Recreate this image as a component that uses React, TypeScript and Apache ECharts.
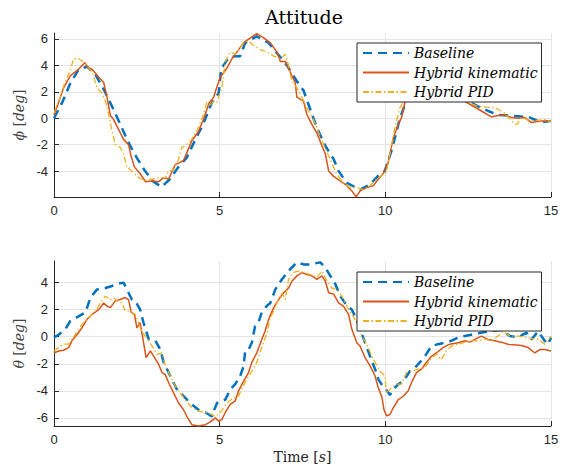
import React, { useEffect, useRef } from "react";
import * as echarts from "echarts";

const SERIES_NAMES = ["Baseline", "Hybrid kinematic", "Hybrid PID"];
const TIME_TICKS = [0, 5, 10, 15];
const PHI_TICKS = [-4, -2, 0, 2, 4, 6];
const THETA_TICKS = [-6, -4, -2, 0, 2, 4];

const PHI_BASELINE: [number, number][] = [
  [0, 0], [0.25, 1.2], [0.5, 2.7], [0.75, 3.7], [1.0, 3.9], [1.25, 3.3], [1.5, 2.2], [1.75, 0.9], [2.0, -0.45],
  [2.25, -1.85], [2.5, -3.0], [2.75, -4.0], [3.0, -4.8], [3.25, -5.2], [3.5, -4.6], [3.75, -3.7], [4.0, -3.0],
  [4.25, -1.7], [4.5, -0.45], [4.75, 1.1], [4.85, 1.5], [4.97, 1.9], [5.05, 3.8], [5.12, 4.0], [5.27, 4.6],
  [5.5, 4.7], [5.62, 4.7], [5.77, 5.7], [6.12, 6.2], [6.48, 5.7], [7.03, 4.0], [7.33, 2.8], [7.53, 2.1],
  [7.73, 0.7], [7.93, -0.7], [8.19, -2.1], [8.44, -3.1], [8.59, -4.0], [8.84, -4.9], [9.24, -5.4], [9.54, -5.0],
  [9.84, -4.2], [9.98, -4.0], [10.18, -2.5], [10.34, -1.0], [10.44, 0], [10.59, 1.0], [10.75, 1.8], [11.0, 2.3],
  [11.5, 2.4], [12.0, 1.9], [12.5, 1.3], [12.8, 0.9], [13.1, 0.55], [13.4, 0.25], [13.81, 0.2], [14.36, 0.05],
  [14.71, -0.3], [15, -0.2],
];

const PHI_KINEMATIC: [number, number][] = [
  [0, 0.25], [0.14, 1.2], [0.29, 2.3], [0.49, 3.2], [0.74, 3.7], [0.93, 4.2], [1.0, 3.9], [1.15, 3.7], [1.35, 3.1],
  [1.5, 2.7], [1.6, 1.6], [1.7, 0.2], [1.8, -0.1], [1.9, -0.6], [2.1, -1.6], [2.25, -2.0], [2.33, -2.9],
  [2.43, -3.7], [2.6, -4.2], [2.76, -4.8], [2.96, -4.75], [3.16, -4.8], [3.31, -4.5], [3.46, -4.6], [3.66, -3.5],
  [3.76, -3.4], [3.91, -3.2], [4.01, -2.6], [4.16, -1.7], [4.36, -1.0], [4.51, -0.1], [4.67, 1.1], [4.82, 1.6],
  [4.92, 2.4], [5.02, 3.1], [5.22, 3.8], [5.37, 4.5], [5.52, 5.0], [5.72, 5.7], [5.82, 5.9], [6.12, 6.4],
  [6.32, 6.1], [6.53, 5.7], [6.73, 5.0], [6.83, 4.3], [6.98, 4.3], [7.13, 3.5], [7.28, 2.7], [7.33, 1.6],
  [7.53, 1.3], [7.63, 0.3], [7.78, -0.45], [7.93, -1.1], [8.09, -2.1], [8.19, -2.7], [8.29, -4.0], [8.44, -4.4],
  [8.64, -4.75], [8.84, -5.1], [8.99, -5.5], [9.12, -5.95], [9.24, -5.5], [9.44, -5.25], [9.64, -5.1],
  [9.79, -4.6], [9.93, -4.2], [10.08, -3.4], [10.24, -1.5], [10.39, -0.45], [10.49, 0.05], [10.59, 1.2],
  [10.75, 1.8], [11.0, 2.2], [11.5, 2.3], [12.0, 1.8], [12.45, 1.2], [12.8, 0.7], [13.2, 0.1], [13.4, 0.2],
  [13.6, 0.25], [13.81, 0.05], [14.01, 0], [14.21, 0.05], [14.41, -0.33], [14.71, -0.2], [15, -0.25],
];

const PHI_PID: [number, number][] = [
  [0, 0.4], [0.19, 1.6], [0.34, 2.8], [0.49, 3.6], [0.59, 4.5], [0.74, 4.5], [0.84, 4.35], [1.0, 3.95],
  [1.15, 3.5], [1.3, 2.3], [1.45, 1.9], [1.55, 1.3], [1.65, 0.3], [1.75, -0.95], [1.85, -2.0], [2.0, -2.2],
  [2.1, -2.7], [2.2, -3.7], [2.35, -4.0], [2.55, -4.5], [2.76, -4.7], [2.96, -4.6], [3.16, -4.5], [3.36, -4.5],
  [3.46, -4.0], [3.61, -3.9], [3.76, -3.1], [3.86, -2.2], [3.96, -2.1], [4.16, -1.6], [4.36, -0.7], [4.51, 0.3],
  [4.62, 1.3], [4.72, 1.0], [4.82, 1.3], [4.92, 1.2], [5.07, 2.4], [5.17, 4.3], [5.32, 5.0], [5.47, 4.85],
  [5.57, 5.2], [5.72, 5.7], [5.87, 5.85], [6.02, 5.5], [6.22, 5.2], [6.43, 5.0], [6.63, 4.7], [6.83, 4.5],
  [6.98, 4.85], [7.08, 4.0], [7.18, 2.8], [7.33, 2.3], [7.48, 1.6], [7.58, 1.05], [7.68, 0.55], [7.83, -0.1],
  [7.99, -1.1], [8.14, -2.0], [8.29, -2.85], [8.44, -3.7], [8.54, -4.25], [8.74, -4.9], [8.94, -5.25],
  [9.14, -5.25], [9.34, -5.4], [9.54, -5.1], [9.74, -4.6], [9.94, -4.25], [10.03, -4.1], [10.14, -2.7],
  [10.29, -0.7], [10.44, 0.8], [10.54, 1.2], [10.75, 1.9], [11.0, 2.4], [11.5, 2.5], [12.0, 2.0], [12.5, 1.2],
  [12.8, 0.9], [13.3, 0.8], [13.6, 0.4], [13.81, -0.2], [13.96, -0.5], [14.11, 0.05], [14.41, -0.2],
  [14.81, -0.1], [15, -0.25],
];

const THETA_BASELINE: [number, number][] = [
  [0, -0.05], [0.14, 0.15], [0.34, 0.55], [0.49, 1.15], [0.74, 1.5], [0.95, 1.8], [1.1, 2.9], [1.3, 3.5],
  [1.55, 3.6], [1.75, 3.75], [1.9, 3.9], [2.1, 4.0], [2.2, 3.5], [2.35, 2.75], [2.45, 2.65], [2.6, 2.0],
  [2.7, 1.05], [2.86, -0.2], [3.06, -0.3], [3.21, -0.95], [3.31, -1.9], [3.51, -2.9], [3.71, -3.9], [3.91, -4.4],
  [4.11, -4.9], [4.36, -5.4], [4.57, -5.6], [4.77, -5.9], [4.82, -5.5], [4.92, -4.9], [5.17, -4.65], [5.32, -3.9],
  [5.47, -3.5], [5.62, -2.9], [5.72, -2.2], [5.77, -1.05], [5.87, -0.95], [5.97, -0.45], [6.07, 0.8], [6.17, 1.05],
  [6.27, 1.8], [6.43, 2.3], [6.53, 2.5], [6.68, 3.5], [6.88, 4.25], [7.13, 5.0], [7.33, 5.5], [7.53, 5.35],
  [7.73, 5.35], [8.04, 5.5], [8.19, 5.1], [8.34, 4.5], [8.49, 3.9], [8.64, 3.0], [8.84, 2.3], [8.99, 2.0],
  [9.09, 1.5], [9.24, 0.55], [9.39, -0.45], [9.54, -1.45], [9.69, -2.4], [9.79, -3.15], [9.88, -3.5],
  [9.99, -3.8], [10.14, -4.3], [10.24, -3.9], [10.39, -3.5], [10.54, -3.3], [10.74, -2.55], [10.89, -2.3],
  [11.04, -1.9], [11.19, -1.45], [11.39, -0.7], [11.59, -0.55], [11.79, -0.45], [11.99, -0.3], [12.2, -0.05],
  [12.4, 0.05], [12.6, 0.15], [12.8, 0.25], [13.0, 0.35], [13.25, 0.45], [13.5, 0.5], [13.76, 0.05],
  [14.01, -0.05], [14.26, 0.3], [14.41, -0.2], [14.61, 0.4], [14.81, -0.3], [14.91, -0.55], [15, -0.05],
];

const THETA_KINEMATIC: [number, number][] = [
  [0, -1.2], [0.14, -1.05], [0.29, -1.0], [0.44, -0.8], [0.54, -0.3], [0.69, 0.15], [0.84, 0.65], [1.0, 1.3],
  [1.15, 1.65], [1.35, 2.0], [1.5, 2.5], [1.6, 2.25], [1.7, 2.15], [1.85, 2.65], [2.0, 2.75], [2.15, 2.9],
  [2.25, 2.75], [2.33, 1.8], [2.43, 1.65], [2.5, 0.65], [2.6, 1.05], [2.67, 0.05], [2.78, -1.55], [2.91, -1.05],
  [3.01, -1.45], [3.16, -2.05], [3.26, -2.65], [3.36, -2.8], [3.46, -3.4], [3.61, -4.15], [3.76, -4.9],
  [3.91, -5.4], [4.01, -5.9], [4.16, -6.5], [4.36, -6.6], [4.57, -6.5], [4.72, -6.3], [4.87, -6.0],
  [4.97, -6.25], [5.07, -6.1], [5.17, -5.6], [5.32, -5.0], [5.47, -4.75], [5.57, -4.0], [5.72, -3.3],
  [5.87, -2.65], [5.97, -1.9], [6.12, -1.2], [6.27, -0.2], [6.37, 0.4], [6.48, 1.3], [6.63, 2.15], [6.78, 2.75],
  [6.93, 3.25], [7.08, 3.6], [7.18, 4.1], [7.33, 4.5], [7.48, 4.75], [7.63, 4.6], [7.78, 4.5], [7.93, 4.25],
  [8.09, 4.5], [8.19, 4.1], [8.29, 3.25], [8.44, 3.15], [8.59, 2.5], [8.74, 2.25], [8.89, 1.65], [8.99, 0.55],
  [9.14, -0.45], [9.24, -0.7], [9.39, -1.55], [9.54, -2.15], [9.69, -2.9], [9.79, -3.8], [9.89, -4.4],
  [9.96, -5.4], [10.04, -5.85], [10.14, -5.75], [10.24, -5.25], [10.39, -4.65], [10.54, -4.4], [10.69, -4.0],
  [10.79, -3.4], [10.94, -2.65], [11.09, -2.4], [11.24, -1.9], [11.39, -1.45], [11.54, -1.2], [11.74, -0.8],
  [11.94, -0.55], [12.2, -0.45], [12.4, -0.3], [12.55, -0.4], [12.7, -0.2], [12.9, 0.05], [13.1, -0.2],
  [13.3, -0.3], [13.5, -0.4], [13.7, -0.55], [14.11, -0.65], [14.31, -0.8], [14.51, -1.2], [14.66, -0.95],
  [14.81, -0.95], [15, -1.05],
];

const THETA_PID: [number, number][] = [
  [0, -1.05], [0.14, -0.8], [0.29, -0.55], [0.44, -0.55], [0.59, -0.05], [0.74, 0.55], [0.89, 1.05], [1.05, 1.4],
  [1.25, 1.9], [1.4, 2.5], [1.55, 3.0], [1.7, 2.75], [1.8, 2.9], [1.9, 2.65], [2.05, 2.5], [2.15, 1.9],
  [2.3, 1.9], [2.45, 1.65], [2.55, 1.05], [2.65, 0.4], [2.76, 0.05], [2.86, -0.3], [2.96, -0.7], [3.11, -1.3],
  [3.26, -1.2], [3.36, -2.15], [3.51, -2.9], [3.66, -3.65], [3.81, -4.15], [3.96, -4.65], [4.16, -5.25],
  [4.36, -5.5], [4.57, -5.6], [4.77, -5.75], [4.87, -5.9], [5.02, -5.6], [5.12, -5.25], [5.22, -4.9],
  [5.42, -4.5], [5.57, -4.4], [5.67, -3.8], [5.82, -3.15], [5.97, -2.55], [6.12, -1.9], [6.27, -0.8],
  [6.43, 0.3], [6.53, 1.4], [6.63, 1.9], [6.73, 2.5], [6.88, 3.25], [6.98, 2.75], [7.08, 4.25], [7.23, 4.75],
  [7.38, 4.85], [7.53, 4.75], [7.73, 4.6], [7.93, 4.4], [8.09, 4.85], [8.24, 4.1], [8.39, 3.6], [8.54, 3.5],
  [8.69, 3.0], [8.84, 2.25], [8.99, 1.65], [9.14, 1.05], [9.29, 0.05], [9.44, -0.55], [9.59, -1.45],
  [9.69, -1.9], [9.84, -2.55], [9.99, -2.9], [10.03, -4.15], [10.18, -3.8], [10.34, -3.5], [10.49, -3.5],
  [10.64, -2.65], [10.79, -2.55], [10.99, -2.4], [11.19, -2.3], [11.39, -1.55], [11.54, -1.3], [11.69, -1.7],
  [11.84, -1.05], [11.99, -0.7], [12.2, -0.55], [12.4, -0.4], [12.6, -0.3], [12.8, -0.3], [13.0, -0.15],
  [13.2, -0.3], [13.4, 0.05], [13.55, 0.4], [13.76, 0.05], [14.01, 0.05], [14.26, -0.05], [14.46, -0.15],
  [14.61, -0.15], [14.81, -0.55], [14.91, -0.3], [15, 0.05],
];

export default function App() {
  const ref = useRef<HTMLDivElement>(null);

  useEffect(() => {
    if (!ref.current) return;
    const chart = echarts.init(ref.current, null, { renderer: "svg" });
    const axisColor = "#262626";
    const gridColor = "#e4e4e4";
    const serif = "DejaVu Serif";

    const xAxis = (gridIndex: number, withName: boolean) => ({
      type: "value",
      gridIndex,
      min: TIME_TICKS[0],
      max: TIME_TICKS[TIME_TICKS.length - 1],
      interval: 5,
      axisLine: { show: true, onZero: false, lineStyle: { color: axisColor, width: 1 } },
      axisTick: { show: true, inside: true, length: 5, lineStyle: { color: axisColor } },
      axisLabel: { fontFamily: "Liberation Sans", fontSize: 13, color: axisColor, margin: 7 },
      splitLine: { show: true, lineStyle: { color: gridColor, width: 1 } },
      name: withName ? "Time [{i|s}]" : "",
      nameLocation: "middle",
      nameGap: 24,
      nameTextStyle: {
        fontFamily: serif,
        fontSize: 14,
        color: axisColor,
        rich: { i: { fontFamily: serif, fontStyle: "italic", fontSize: 14, color: axisColor } },
      },
    });

    const yAxis = (gridIndex: number, ticks: number[], min: number, max: number, sym: string) => ({
      type: "value",
      gridIndex,
      min,
      max,
      axisLine: { show: true, onZero: false, lineStyle: { color: axisColor, width: 1 } },
      axisTick: { show: true, inside: true, length: 5, customValues: ticks, lineStyle: { color: axisColor } },
      axisLabel: { fontFamily: "Liberation Sans", fontSize: 13, color: axisColor, margin: 6, customValues: ticks },
      splitLine: { show: true, lineStyle: { color: gridColor, width: 1 } },
      name: `{i|${sym}} [{i|deg}]`,
      nameLocation: "middle",
      nameGap: 26,
      nameRotate: 90,
      nameTextStyle: {
        fontFamily: serif,
        fontSize: 14,
        color: "#404040",
        rich: { i: { fontFamily: serif, fontStyle: "italic", fontSize: 14, color: "#404040" } },
      },
    });

    const styles = [
      { color: "#0072BD", width: 2.5, type: [9, 6] },
      { color: "#D95319", width: 1.5, type: "solid" },
      { color: "#EDB120", width: 1.3, type: [6, 2.5, 1.5, 2.5] },
    ];

    const line = (name: string, data: [number, number][], idx: number, s: any) => ({
      type: "line",
      name,
      data,
      xAxisIndex: idx,
      yAxisIndex: idx,
      showSymbol: false,
      symbol: "none",
      color: s.color,
      lineStyle: s,
      clip: true,
    });

    const legendCommon = {
      data: SERIES_NAMES,
      orient: "vertical",
      left: 357,
      backgroundColor: "#ffffff",
      borderColor: axisColor,
      borderWidth: 1,
      borderRadius: 0,
      padding: [3, 4, 3, 5],
      itemWidth: 46,
      itemHeight: 14,
      itemGap: 5.5,
      selectedMode: false,
      z: 10,
      itemStyle: { opacity: 0, borderWidth: 0 },
      textStyle: { fontFamily: serif, fontStyle: "italic", fontSize: 14, color: "#000" },
    };

    chart.setOption({
      animation: false,
      backgroundColor: "#ffffff",
      graphic: [
        {
          type: "text",
          x: 304,
          y: 17,
          style: {
            text: "Attitude",
            fontFamily: serif,
            fontSize: 19,
            fill: "#000",
            align: "center",
            verticalAlign: "middle",
          },
        },
      ],
      grid: [
        { left: 54, top: 33, width: 497, height: 164 },
        { left: 54, top: 261, width: 497, height: 165 },
      ],
      xAxis: [xAxis(0, false), xAxis(1, true)],
      yAxis: [yAxis(0, PHI_TICKS, -5.96, 6.45, "ϕ"), yAxis(1, THETA_TICKS, -6.6, 5.6, "θ")],
      legend: [
        { ...legendCommon, top: 43 },
        { ...legendCommon, top: 272 },
      ],
      series: [
        line(SERIES_NAMES[0], PHI_BASELINE, 0, styles[0]),
        line(SERIES_NAMES[1], PHI_KINEMATIC, 0, styles[1]),
        line(SERIES_NAMES[2], PHI_PID, 0, styles[2]),
        line(SERIES_NAMES[0], THETA_BASELINE, 1, styles[0]),
        line(SERIES_NAMES[1], THETA_KINEMATIC, 1, styles[1]),
        line(SERIES_NAMES[2], THETA_PID, 1, styles[2]),
      ],
    });

    return () => chart.dispose();
  }, []);

  return <div ref={ref} style={{ position: "fixed", left: 0, top: 0, width: 570, height: 468 }} />;
}
